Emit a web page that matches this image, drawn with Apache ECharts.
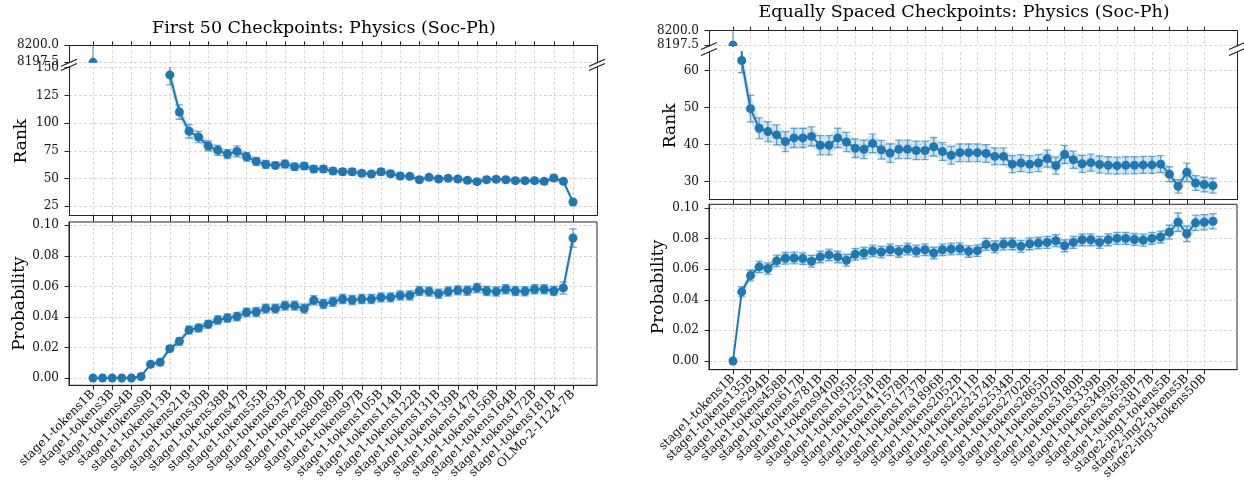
<!DOCTYPE html>
<html>
<head>
<meta charset="utf-8">
<script src="https://cdn.jsdelivr.net/npm/echarts@6/dist/echarts.min.js"></script>
<style>
  html, body { margin: 0; padding: 0; background: #ffffff; }
  #chart { width: 1244px; height: 482px; }
</style>
</head>
<body>
<div id="chart"></div>
<script>
// ---- checkpoint labels (every second checkpoint is labelled) ----
const firstLabels = [
  'stage1-tokens1B', 'stage1-tokens3B', 'stage1-tokens4B', 'stage1-tokens9B', 'stage1-tokens13B',
  'stage1-tokens21B', 'stage1-tokens30B', 'stage1-tokens38B', 'stage1-tokens47B', 'stage1-tokens55B',
  'stage1-tokens63B', 'stage1-tokens72B', 'stage1-tokens80B', 'stage1-tokens89B', 'stage1-tokens97B',
  'stage1-tokens105B', 'stage1-tokens114B', 'stage1-tokens122B', 'stage1-tokens131B', 'stage1-tokens139B',
  'stage1-tokens147B', 'stage1-tokens156B', 'stage1-tokens164B', 'stage1-tokens172B', 'stage1-tokens181B',
  'OLMo-2-1124-7B'
];
const spacedLabels = [
  'stage1-tokens1B', 'stage1-tokens135B', 'stage1-tokens294B', 'stage1-tokens458B', 'stage1-tokens617B',
  'stage1-tokens781B', 'stage1-tokens940B', 'stage1-tokens1095B', 'stage1-tokens1255B', 'stage1-tokens1418B',
  'stage1-tokens1578B', 'stage1-tokens1737B', 'stage1-tokens1896B', 'stage1-tokens2052B', 'stage1-tokens2211B',
  'stage1-tokens2374B', 'stage1-tokens2534B', 'stage1-tokens2702B', 'stage1-tokens2865B', 'stage1-tokens3020B',
  'stage1-tokens3180B', 'stage1-tokens3339B', 'stage1-tokens3499B', 'stage1-tokens3658B', 'stage1-tokens3817B',
  'stage2-ing1-tokens5B', 'stage2-ing2-tokens5B', 'stage2-ing3-tokens50B'
];

// ---- first 50 checkpoints (+ final model) ----
// ranks of checkpoints 1-7 fall inside the axis break and are not plotted
const firstRank = [
  8197.5, null, null, null, null, null, null, null,
  143.5, 110, 92.6, 87.5, 79.4, 75.5, 72.1, 74.5, 69.7, 65.5,
  62.8, 61.9, 63.1, 60.7, 61.3, 58.6, 58.6, 56.8, 56.2, 56.2,
  54.7, 54.1, 56.2, 54.4, 52.3, 52.0, 49.0, 51.1, 49.6, 50.2,
  49.6, 48.4, 47.2, 49.0, 49.3, 49.0, 48.1, 48.1, 48.1, 47.5,
  50.5, 47.5, 28.9
];
const firstRankErr = [
  4, null, null, null, null, null, null, null,
  9, 6.5, 6, 5, 4.5, 4.5, 4, 5, 4, 3.5,
  3.5, 3, 3.5, 3, 3, 3, 3, 2.8, 2.8, 2.8,
  2.6, 2.6, 2.8, 2.6, 2.5, 2.5, 2.4, 2.5, 2.4, 2.4,
  2.4, 2.4, 2.3, 2.4, 2.4, 2.4, 2.3, 2.3, 2.3, 2.3,
  2.5, 2.3, 2
];
const firstProb = [
  0, 0, 0, 0, 0, 0.001, 0.009, 0.0103, 0.0192, 0.024,
  0.0314, 0.0328, 0.0352, 0.038, 0.0393, 0.0402, 0.043, 0.0432, 0.0454, 0.0454,
  0.0474, 0.0474, 0.0454, 0.0509, 0.0485, 0.05, 0.0517, 0.0511, 0.0517, 0.0517,
  0.0528, 0.0528, 0.0541, 0.0541, 0.057, 0.0566, 0.0552, 0.0566, 0.0574, 0.0572,
  0.059, 0.057, 0.0566, 0.0581, 0.057, 0.0568, 0.0581, 0.0581, 0.057, 0.059,
  0.0917
];
const firstProbErr = [
  0.0002, 0.0002, 0.0002, 0.0002, 0.0002, 0.0004, 0.0015, 0.0018, 0.002, 0.0025,
  0.0025, 0.0025, 0.0026, 0.0027, 0.0027, 0.0028, 0.0028, 0.0028, 0.0029, 0.0029,
  0.0029, 0.0029, 0.0029, 0.003, 0.003, 0.003, 0.003, 0.003, 0.003, 0.003,
  0.003, 0.003, 0.003, 0.003, 0.003, 0.003, 0.003, 0.003, 0.003, 0.003,
  0.003, 0.003, 0.003, 0.003, 0.003, 0.003, 0.003, 0.003, 0.003, 0.004,
  0.006
];

// ---- equally spaced checkpoints ----
const spacedRank = [
  8197.5, 62.7, 49.7, 44.4, 43.5, 42.6, 40.8, 41.8, 41.8, 42.2,
  39.8, 39.8, 41.8, 40.7, 39.0, 38.7, 40.3, 38.6, 37.7, 38.7,
  38.7, 38.4, 38.4, 39.4, 38.1, 37.1, 37.8, 37.8, 37.8, 37.6,
  36.8, 36.8, 34.7, 35.0, 34.7, 35.0, 36.2, 34.3, 37.3, 35.9,
  34.8, 35.1, 34.6, 34.4, 34.3, 34.4, 34.4, 34.5, 34.5, 34.7,
  32.0, 28.7, 32.5, 29.6, 29.2, 28.9
];
const spacedRankErr = [
  4, 3.3, 3.6, 2.8, 2.7, 2.7, 2.7, 2.6, 2.6, 2.6,
  2.6, 2.6, 2.6, 2.6, 2.5, 2.5, 2.5, 2.5, 2.5, 2.5,
  2.5, 2.5, 2.5, 2.5, 2.4, 2.4, 2.4, 2.4, 2.4, 2.4,
  2.3, 2.3, 2.3, 2.3, 2.3, 2.3, 2.3, 2.3, 2.4, 2.3,
  2.3, 2.3, 2.3, 2.3, 2.3, 2.3, 2.3, 2.3, 2.3, 2.3,
  2.0, 1.8, 2.5, 2.0, 2.0, 2.0
];
const spacedProb = [
  0, 0.0452, 0.0558, 0.0615, 0.0604, 0.0654, 0.0671, 0.0673, 0.0669, 0.0652,
  0.068, 0.0693, 0.068, 0.0658, 0.0697, 0.0706, 0.0719, 0.0712, 0.0727, 0.0716,
  0.0732, 0.0719, 0.0727, 0.0706, 0.0727, 0.0732, 0.0734, 0.0716, 0.0721, 0.0762,
  0.0745, 0.0764, 0.0766, 0.0749, 0.0766, 0.0771, 0.0775, 0.0786, 0.0753, 0.0775,
  0.0792, 0.0792, 0.0775, 0.0792, 0.0801, 0.0801, 0.0794, 0.079, 0.0801, 0.081,
  0.0842, 0.0907, 0.0831, 0.0903, 0.0907, 0.0913
];
const spacedProbErr = [
  0.0003, 0.0033, 0.0035, 0.0037, 0.0037, 0.0038, 0.0038, 0.0038, 0.0038, 0.0038,
  0.0038, 0.0038, 0.0038, 0.0038, 0.0038, 0.0038, 0.0038, 0.0038, 0.0038, 0.0038,
  0.0038, 0.0038, 0.0038, 0.0038, 0.0038, 0.0038, 0.0038, 0.0038, 0.0038, 0.0039,
  0.0039, 0.0039, 0.0039, 0.0039, 0.0039, 0.0039, 0.0039, 0.0039, 0.0039, 0.0039,
  0.0039, 0.0039, 0.0039, 0.0039, 0.0039, 0.0039, 0.0039, 0.0039, 0.0039, 0.0039,
  0.0045, 0.006, 0.005, 0.005, 0.005, 0.005
];

// ---- axis ticks ----
const brokenTicks = [8197.5, 8200];
const firstRankTicks = [25, 50, 75, 100, 125, 150];
const spacedRankTicks = [30, 40, 50, 60];
const probTicks = [0, 0.02, 0.04, 0.06, 0.08, 0.10];

// ---- styling ----
const FONT = 'DejaVu Serif';
const BLUE = '#1f77b4';
const ERR_COLOR = 'rgba(31,119,180,0.62)';
const BAND_COLOR = 'rgba(31,119,180,0.2)';
const SPINE = '#222222';
const GRIDLINE = { show: true, lineStyle: { color: '#cccccc', width: 0.8, type: [3, 2] } };

const grids = [], xAxes = [], yAxes = [], series = [], graphics = [];

function addGrid(g, border) {
  grids.push(Object.assign({ containLabel: false, show: !!border, borderColor: SPINE, borderWidth: 1 }, g));
  return grids.length - 1;
}

function addX(gi, range, ticks, extra) {
  xAxes.push(Object.assign({
    type: 'value', gridIndex: gi, min: range[0], max: range[1],
    axisLine: { show: true, onZero: false, lineStyle: { color: SPINE, width: 1 } },
    axisTick: { show: true, customValues: ticks, length: 4, lineStyle: { color: SPINE, width: 1 } },
    axisLabel: { show: false, customValues: ticks },
    splitLine: GRIDLINE
  }, extra));
  return xAxes.length - 1;
}

function addY(gi, range, ticks, digits, name, nameGap) {
  yAxes.push({
    type: 'value', gridIndex: gi, min: range[0], max: range[1], position: 'left',
    name: name || '', nameLocation: 'middle', nameGap: nameGap || 0, nameRotate: 90,
    nameTextStyle: { fontFamily: FONT, fontSize: 17, color: '#000' },
    axisLine: { show: true, onZero: false, lineStyle: { color: SPINE, width: 1 } },
    axisTick: { show: true, customValues: ticks, length: 4.5, lineStyle: { color: SPINE, width: 1 } },
    axisLabel: {
      customValues: ticks, fontFamily: FONT, fontSize: 12, color: '#111', margin: 10,
      showMinLabel: true, showMaxLabel: true,
      formatter: v => Number(v).toFixed(digits)
    },
    splitLine: GRIDLINE
  });
  return yAxes.length - 1;
}

function addRightSpine(gi, range) {
  yAxes.push({
    type: 'value', gridIndex: gi, min: range[0], max: range[1], position: 'right',
    axisLine: { show: true, onZero: false, lineStyle: { color: SPINE, width: 1 } },
    axisTick: { show: false }, axisLabel: { show: false }, splitLine: { show: false }
  });
}

// shaded band value +/- err, one polygon per unbroken run of points
function bandSeries(xi, yi, values, errs) {
  return {
    type: 'custom', xAxisIndex: xi, yAxisIndex: yi, clip: true, silent: true, z: 1,
    data: [[0, 0]],
    renderItem(params, api) {
      const runs = [];
      let cur = [];
      values.forEach((v, i) => {
        if (v == null) { if (cur.length) runs.push(cur); cur = []; }
        else cur.push(i);
      });
      if (cur.length) runs.push(cur);
      const children = runs.filter(r => r.length > 1).map(r => {
        const upper = r.map(i => api.coord([i, values[i] + errs[i]]));
        const lower = r.slice().reverse().map(i => api.coord([i, values[i] - errs[i]]));
        return { type: 'polygon', shape: { points: upper.concat(lower) }, style: { fill: BAND_COLOR } };
      });
      return { type: 'group', children };
    }
  };
}

// vertical error bars with caps
function errorSeries(xi, yi, values, errs) {
  const data = [];
  values.forEach((v, i) => { if (v != null) data.push([i, v - errs[i], v + errs[i]]); });
  return {
    type: 'custom', xAxisIndex: xi, yAxisIndex: yi, clip: true, silent: true, z: 2,
    encode: { x: 0, y: [1, 2] },
    data,
    renderItem(params, api) {
      const top = api.coord([api.value(0), api.value(2)]);
      const bot = api.coord([api.value(0), api.value(1)]);
      const hw = 3.8;
      const style = { stroke: ERR_COLOR, lineWidth: 1.3 };
      return {
        type: 'group', children: [
          { type: 'line', shape: { x1: top[0], y1: top[1], x2: bot[0], y2: bot[1] }, style },
          { type: 'line', shape: { x1: top[0] - hw, y1: top[1], x2: top[0] + hw, y2: top[1] }, style },
          { type: 'line', shape: { x1: bot[0] - hw, y1: bot[1], x2: bot[0] + hw, y2: bot[1] }, style }
        ]
      };
    }
  };
}

function lineSeries(xi, yi, values, withSymbols) {
  return {
    type: 'line', xAxisIndex: xi, yAxisIndex: yi, clip: true, silent: true, z: 3,
    data: values.map((v, i) => [i, v]),
    connectNulls: false,
    showSymbol: withSymbols, symbol: 'circle', symbolSize: 9,
    lineStyle: { color: BLUE, width: 2 },
    itemStyle: { color: BLUE },
    emphasis: { disabled: true }
  };
}

// markers clipped to the plotting area (used for the short upper axis)
function clippedMarkers(xi, yi, values) {
  const data = [];
  values.forEach((v, i) => { if (v != null) data.push([i, v]); });
  return {
    type: 'custom', xAxisIndex: xi, yAxisIndex: yi, clip: true, silent: true, z: 4,
    data,
    renderItem(params, api) {
      const p = api.coord([api.value(0), api.value(1)]);
      return { type: 'circle', shape: { cx: p[0], cy: p[1], r: 4.5 }, style: { fill: BLUE } };
    }
  };
}

function breakMarks(x, y1, y2) {
  [y1, y2].forEach(y => {
    graphics.push({
      type: 'line', silent: true, z: 100,
      shape: { x1: x - 8, y1: y + 3.5, x2: x + 8, y2: y - 3.5 },
      style: { stroke: SPINE, lineWidth: 1.2 }
    });
  });
}

function addPanel(p) {
  const tickXs = p.labels.map((_, k) => 2 * k);
  const gTop = addGrid({ left: p.left, width: p.width, top: p.top.top, height: p.top.height });
  const gRank = addGrid({ left: p.left, width: p.width, top: p.rank.top, height: p.rank.height });
  const gProb = addGrid({ left: p.left, width: p.width, top: p.prob.top, height: p.prob.height }, true);

  const xTop = addX(gTop, p.xRange, tickXs, { position: 'top' });
  const xRank = addX(gRank, p.xRange, tickXs, {
    position: 'bottom',
    axisTick: { show: true, customValues: tickXs, length: p.rank.tickLen, lineStyle: { color: SPINE, width: 1 } }
  });
  const xProb = addX(gProb, p.xRange, tickXs, {
    position: 'bottom',
    axisTick: { show: true, customValues: tickXs, length: 4.5, lineStyle: { color: SPINE, width: 1 } },
    axisLabel: {
      show: true, customValues: tickXs, rotate: 45, margin: 7,
      fontFamily: FONT, fontSize: 12, color: '#111',
      showMinLabel: true, showMaxLabel: true, hideOverlap: false,
      formatter: v => p.labels[Math.round(v / 2)] || ''
    }
  });

  const yTop = addY(gTop, p.top.range, brokenTicks, 1);
  const yRank = addY(gRank, p.rank.range, p.rank.ticks, 0, 'Rank', p.rank.nameGap);
  const yProb = addY(gProb, p.prob.range, probTicks, 2, 'Probability', p.prob.nameGap);
  addRightSpine(gTop, p.top.range);
  addRightSpine(gRank, p.rank.range);

  series.push(
    bandSeries(xTop, yTop, p.rank.values, p.rank.errs),
    errorSeries(xTop, yTop, p.rank.values, p.rank.errs),
    lineSeries(xTop, yTop, p.rank.values, false),
    clippedMarkers(xTop, yTop, p.rank.values),

    bandSeries(xRank, yRank, p.rank.values, p.rank.errs),
    errorSeries(xRank, yRank, p.rank.values, p.rank.errs),
    lineSeries(xRank, yRank, p.rank.values, true),

    bandSeries(xProb, yProb, p.prob.values, p.prob.errs),
    errorSeries(xProb, yProb, p.prob.values, p.prob.errs),
    lineSeries(xProb, yProb, p.prob.values, true)
  );

  graphics.push({
    type: 'text', silent: true, x: p.titleX, y: p.titleY,
    style: { text: p.title, font: '17.5px "DejaVu Serif"', fill: '#000', align: 'center', verticalAlign: 'middle' }
  });

  const topBottom = p.top.top + p.top.height;
  breakMarks(p.left, topBottom, p.rank.top);
  breakMarks(p.left + p.width, topBottom, p.rank.top);
}

addPanel({
  title: 'First 50 Checkpoints: Physics (Soc-Ph)', titleX: 324, titleY: 28,
  labels: firstLabels, left: 69, width: 528, xRange: [-2.5, 52.5],
  top: { top: 45.3, height: 17.4, range: [8197.45, 8200] },
  rank: { top: 67, height: 148.3, range: [16.9, 150.6], ticks: firstRankTicks,
          values: firstRank, errs: firstRankErr, tickLen: 6.7, nameGap: 39 },
  prob: { top: 222, height: 163.3, range: [-0.0048, 0.1022],
          values: firstProb, errs: firstProbErr, nameGap: 41 }
});

addPanel({
  title: 'Equally Spaced Checkpoints: Physics (Soc-Ph)', titleX: 964, titleY: 12,
  labels: spacedLabels, left: 709, width: 528, xRange: [-2.75, 57.75],
  top: { top: 30.7, height: 15.3, range: [8197.35, 8200] },
  rank: { top: 52, height: 147.7, range: [25.1, 65.0], ticks: spacedRankTicks,
          values: spacedRank, errs: spacedRankErr, tickLen: 4.6, nameGap: 30 },
  prob: { top: 204.3, height: 166.4, range: [-0.0057, 0.1024],
          values: spacedProb, errs: spacedProbErr, nameGap: 42 }
});

const chart = echarts.init(document.getElementById('chart'), null, { renderer: 'canvas' });
chart.setOption({
  animation: false,
  backgroundColor: '#ffffff',
  grid: grids,
  xAxis: xAxes,
  yAxis: yAxes,
  series: series,
  graphic: graphics
});
</script>
</body>
</html>
